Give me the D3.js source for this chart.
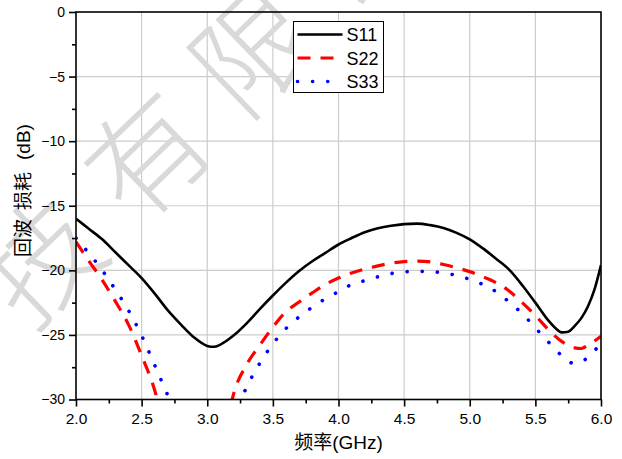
<!DOCTYPE html>
<html>
<head>
<meta charset="utf-8">
<script src="https://cdn.jsdelivr.net/npm/d3@7/dist/d3.min.js"></script>
<style>
  html, body { margin: 0; padding: 0; background: #fff; }
  svg { display: block; }
  text { font-family: "Liberation Sans", Arial, sans-serif; }
</style>
</head>
<body>
<script>
// Return loss of three ports versus frequency (GHz, dB)
const freqS11 = [2.0,2.1,2.2,2.3,2.4,2.5,2.6,2.7,2.8,2.9,3.0,3.05,3.1,3.2,3.3,3.4,3.5,3.6,3.7,3.8,3.9,4.0,4.1,4.2,4.3,4.4,4.5,4.6,4.7,4.8,4.9,5.0,5.1,5.2,5.3,5.4,5.5,5.6,5.65,5.7,5.75,5.8,5.85,5.9,5.95,6.0];
const valS11  = [-16.0,-16.8,-17.6,-18.6,-19.6,-20.6,-21.8,-23.1,-24.2,-25.2,-25.85,-25.92,-25.75,-25.05,-24.1,-23.0,-21.95,-20.95,-20.05,-19.3,-18.65,-18.0,-17.5,-17.05,-16.75,-16.55,-16.42,-16.38,-16.5,-16.72,-17.1,-17.6,-18.3,-19.1,-19.95,-21.15,-22.5,-23.9,-24.45,-24.8,-24.75,-24.3,-23.7,-22.8,-21.5,-19.6];

// null marks the stretch that falls below the axis floor
const freqS22 = [2.0,2.1,2.2,2.3,2.4,2.5,2.6,2.63,2.9,3.18,3.2,3.3,3.4,3.5,3.6,3.7,3.8,3.9,4.0,4.1,4.2,4.3,4.4,4.5,4.6,4.7,4.8,4.9,5.0,5.1,5.2,5.3,5.4,5.5,5.6,5.7,5.8,5.85,5.9,6.0];
const valS22  = [-17.8,-19.3,-20.75,-22.4,-24.2,-26.6,-29.3,-30.4,null,-30.4,-29.6,-27.3,-25.8,-24.4,-23.2,-22.45,-21.75,-21.1,-20.6,-20.2,-19.9,-19.65,-19.45,-19.32,-19.28,-19.35,-19.55,-19.8,-20.1,-20.5,-20.95,-21.6,-22.5,-23.5,-24.6,-25.5,-26.0,-26.05,-25.8,-25.1];

const freqS33 = [2.0,2.1,2.2,2.3,2.4,2.5,2.6,2.7,2.73,3.0,3.24,3.3,3.4,3.5,3.6,3.7,3.8,3.9,4.0,4.1,4.2,4.3,4.4,4.5,4.6,4.7,4.8,4.9,5.0,5.1,5.2,5.3,5.4,5.5,5.6,5.7,5.77,5.8,5.9,6.0];
const valS33  = [-17.5,-18.7,-20.0,-21.5,-23.1,-25.05,-27.35,-29.7,-30.4,null,-30.4,-29.05,-27.2,-25.7,-24.5,-23.6,-22.85,-22.2,-21.65,-21.1,-20.8,-20.5,-20.25,-20.12,-20.08,-20.1,-20.2,-20.4,-20.7,-21.1,-21.65,-22.45,-23.35,-24.45,-25.55,-26.6,-27.15,-27.2,-26.75,-25.6];

const seriesNames = ["S11", "S22", "S33"];
const xTicks = [2.0,2.5,3.0,3.5,4.0,4.5,5.0,5.5,6.0];
const yTicks = [0,-5,-10,-15,-20,-25,-30];
const xLabel = "频率(GHz)";
const yLabelParts = ["回波", "损耗", "(dB)"];
const watermarkChars = ["科","技","有","限","公","司"];

const W = 622, H = 459;
const m = { left: 76, right: 21, top: 12, bottom: 60 };

const svg = d3.select("body").append("svg").attr("width", W).attr("height", H);

const x = d3.scaleLinear().domain([2, 6]).range([m.left, W - m.right]);
const y = d3.scaleLinear().domain([-30, 0]).range([H - m.bottom + 0.5, m.top]);

svg.append("defs").append("clipPath").attr("id", "plot")
  .append("rect").attr("x", x(2)).attr("y", y(0)).attr("width", x(6) - x(2)).attr("height", y(-30) - y(0));

// grid
const grid = svg.append("g").attr("stroke", "#cccccc").attr("stroke-width", 1.2);
xTicks.slice(1, -1).forEach(t => grid.append("line")
  .attr("x1", x(t)).attr("x2", x(t)).attr("y1", y(0)).attr("y2", y(-30)));
yTicks.slice(1, -1).forEach(t => grid.append("line")
  .attr("x1", x(2)).attr("x2", x(6)).attr("y1", y(t)).attr("y2", y(t)));

// watermark lettering along a diagonal
const wm = svg.append("g").attr("fill", "#d9d9d9");
watermarkChars.forEach((c, i) => {
  const cx = -72 + i * 107, cy = 360 - i * 105;
  wm.append("text")
    .attr("transform", `translate(${cx},${cy}) rotate(-44)`)
    .attr("text-anchor", "middle")
    .attr("dominant-baseline", "central")
    .style("font-family", "'Noto Sans CJK SC'")
    .style("font-weight", 200)
    .style("font-size", "118px")
    .text(c);
});

// curves
const line = d3.line()
  .defined(d => d[1] !== null)
  .x(d => x(d[0])).y(d => y(d[1]))
  .curve(d3.curveMonotoneX);

const styles = {
  S11: { color: "#000000", width: 2.6, dash: null, cap: "butt" },
  S22: { color: "#ff0000", width: 3.2, dash: "13,10", cap: "butt" },
  S33: { color: "#0000ff", width: 3.6, dash: "0.1,15", cap: "round" }
};
const data = {
  S11: d3.zip(freqS11, valS11),
  S22: d3.zip(freqS22, valS22),
  S33: d3.zip(freqS33, valS33)
};

const plot = svg.append("g").attr("clip-path", "url(#plot)");
["S33", "S22", "S11"].forEach(k => {
  const s = styles[k];
  plot.append("path")
    .datum(data[k])
    .attr("fill", "none")
    .attr("stroke", s.color)
    .attr("stroke-width", s.width)
    .attr("stroke-linecap", s.cap)
    .attr("stroke-dasharray", s.dash)
    .attr("d", line);
});

// frame
svg.append("rect")
  .attr("x", x(2)).attr("y", y(0)).attr("width", x(6) - x(2)).attr("height", y(-30) - y(0))
  .attr("fill", "none").attr("stroke", "#000").attr("stroke-width", 1.6);

// axes
const xAxis = d3.axisBottom(x).tickValues(xTicks).tickSize(7).tickPadding(6).tickFormat(d3.format(".1f"));
const gx = svg.append("g").attr("transform", `translate(0,${y(-30)})`).call(xAxis);
gx.select(".domain").remove();
gx.selectAll(".tick line").attr("stroke-width", 1.6);
gx.selectAll(".tick text").style("font-size", "15.5px").attr("fill", "#000");

const xMinor = d3.axisBottom(x).tickValues(d3.range(2.25, 6, 0.5)).tickSize(4).tickFormat("");
const gxm = svg.append("g").attr("transform", `translate(0,${y(-30)})`).call(xMinor);
gxm.select(".domain").remove();
gxm.selectAll(".tick line").attr("stroke-width", 1.6);

const yAxis = d3.axisLeft(y).tickValues(yTicks).tickSize(7).tickPadding(4).tickFormat(d3.format("d"));
const gy = svg.append("g").attr("transform", `translate(${x(2)},0)`).call(yAxis);
gy.select(".domain").remove();
gy.selectAll(".tick line").attr("stroke-width", 1.6);
gy.selectAll(".tick text").style("font-size", "14px").attr("fill", "#000");

const yMinor = d3.axisLeft(y).tickValues(d3.range(-27.5, 0, 5)).tickSize(4).tickFormat("");
const gym = svg.append("g").attr("transform", `translate(${x(2)},0)`).call(yMinor);
gym.select(".domain").remove();
gym.selectAll(".tick line").attr("stroke-width", 1.6);

// axis titles
svg.append("text")
  .attr("x", (x(2) + x(6)) / 2).attr("y", 449)
  .attr("text-anchor", "middle")
  .style("font-size", "19px")
  .style("font-family", "'Liberation Sans','Noto Sans CJK SC',sans-serif")
  .text(xLabel);

const yTitle = svg.append("text")
  .attr("transform", "translate(30,257) rotate(-90)")
  .style("font-size", "19px")
  .style("font-family", "'Liberation Sans','Noto Sans CJK SC',sans-serif");
[0, 47, 97].forEach((off, i) => yTitle.append("tspan").attr("x", off).attr("y", 0).text(yLabelParts[i]));

// legend
const lg = svg.append("g").attr("transform", "translate(293.5,21.5)");
lg.append("rect").attr("width", 90).attr("height", 71)
  .attr("fill", "#fff").attr("stroke", "#000").attr("stroke-width", 1);
seriesNames.forEach((k, i) => {
  const s = styles[k];
  const yy = 13 + i * 23.5;
  lg.append("line")
    .attr("x1", 4).attr("x2", 49).attr("y1", yy).attr("y2", yy)
    .attr("stroke", s.color).attr("stroke-width", s.width)
    .attr("stroke-linecap", s.cap)
    .attr("stroke-dasharray", s.dash);
  lg.append("text")
    .attr("x", 53).attr("y", yy + 6.5)
    .style("font-size", "18px")
    .text(k);
});
</script>
</body>
</html>
